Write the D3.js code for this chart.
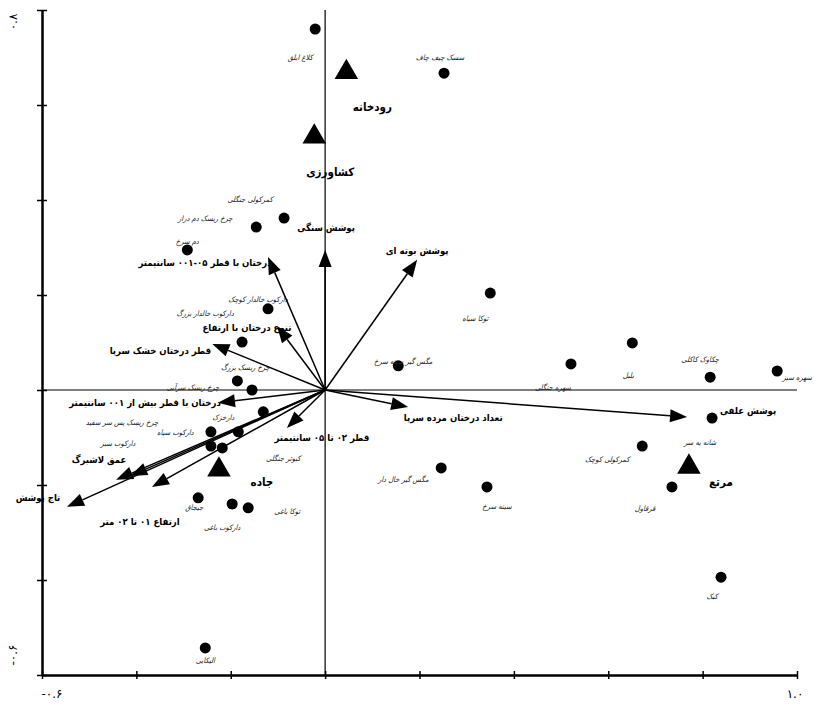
<!DOCTYPE html>
<html>
<head>
<meta charset="utf-8">
<script src="https://cdn.jsdelivr.net/npm/d3@7.9.0/dist/d3.min.js"></script>
<style>
  body { margin: 0; background: #fff; }
  svg { display: block; font-family: "DejaVu Sans Condensed", "DejaVu Sans", sans-serif; }
  .sp { font-size: 7.5px; font-style: italic; fill: #222; }
  .env { font-size: 9.5px; font-weight: bold; fill: #000; }
  .land { font-size: 11.5px; font-weight: bold; fill: #000; }
  .tick-lbl { font-size: 12px; fill: #000; font-family: "DejaVu Sans", sans-serif; }
</style>
</head>
<body>
<svg id="plot" width="814" height="707"></svg>
<script>
// species scores (circles)
const speciesNames = [
  'کلاغ ابلق', 'سسک چیف چاف', 'کمرکولی جنگلی', 'چرخ ریسک دم دراز', 'دم سرخ',
  'دارکوب خالدار کوچک', 'دارکوب خالدار بزرگ', 'چرخ ریسک بزرگ', 'چرخ ریسک سرآبی', 'دارخزک',
  'چرخ ریسک پس سر سفید', 'دارکوب سیاه', 'دارکوب سبز', 'کبوتر جنگلی', 'جیجاق',
  'دارکوب باغی', 'توکا باغی', 'الیکایی', 'توکا سیاه', 'مگس گیر سینه سرخ',
  'سهره جنگلی', 'بلبل', 'چکاوک کاکلی', 'سهره سبز', 'شانه به سر',
  'کمرکولی کوچک', 'قرقاول', 'کبک', 'مگس گیر خال دار', 'سینه سرخ'
];
const speciesX = [
  -0.021, 0.252, -0.087, -0.146, -0.292,
  -0.121, -0.176, -0.186, -0.155, -0.131,
  -0.242, -0.184, -0.242, -0.218, -0.269,
  -0.197, -0.163, -0.254, 0.350, 0.155,
  0.521, 0.651, 0.816, 0.958, 0.820,
  0.672, 0.735, 0.839, 0.246, 0.343
];
const speciesY = [
  0.760, 0.667, 0.362, 0.343, 0.295,
  0.171, 0.101, 0.019, 0.000, -0.046,
  -0.088, -0.088, -0.118, -0.122, -0.227,
  -0.240, -0.248, -0.543, 0.204, 0.051,
  0.055, 0.099, 0.027, 0.040, -0.059,
  -0.118, -0.204, -0.394, -0.164, -0.204
];

// land-use centroids (triangles)
const landNames = ['رودخانه', 'کشاورزی', 'جاده', 'مرتع'];
const landX = [0.045, -0.023, -0.225, 0.771];
const landY = [0.669, 0.533, -0.168, -0.162];

// environmental variables (arrows from origin)
const envNames = [
  'پوشش سنگی', 'پوشش بوته ای', 'درختان با قطر ۰۵-۰۰۱ سانتیمتر', 'تنوع درختان با ارتفاع',
  'قطر درختان خشک سرپا', 'درختان با قطر بیش از ۰۰۱ سانتیمتر', 'قطر ۰۲ تا ۰۵ سانتیمتر',
  'عمق لاشبرگ', '', 'تاج پوشش', 'ارتفاع ۰۱ تا ۰۲ متر', 'تعداد درختان مرده سرپا', 'پوشش علفی'
];
const envX = [0.000, 0.195, -0.121, -0.102, -0.239, -0.227, -0.081, -0.443, -0.413, -0.547, -0.367, 0.176, 0.767];
const envY = [0.295, 0.274, 0.280, 0.135, 0.097, -0.027, -0.080, -0.189, -0.181, -0.246, -0.204, -0.036, -0.057];

const xTicks = [-0.6, -0.4, -0.2, 0, 0.2, 0.4, 0.6, 0.8, 1.0];
const yTicks = [-0.6, -0.4, -0.2, 0, 0.2, 0.4, 0.6, 0.8];

// label placement (pixel offsets from the mark)
const speciesLabelOff = [
  [-15, 28], [-4, -16], [-34, -19], [-51, -9], [0, -8],
  [-10, -9], [-37, -29], [8, -13], [-59, -3], [-40, 6],
  [-89, -9], [-63, 1], [-93, -3], [61, 11], [-4, 10],
  [-10, 23], [39, 4], [0, 13], [-15, 25], [5, -4],
  [-18, 24], [-4, 33], [-10, -18], [20, 6], [-12, 24],
  [-35, 13], [-27, 22], [-9, 19], [-38, 12], [10, 20]
];
const landLabelOff = [[26, 35], [16, 35], [43, 12], [32, 15]];
const envLabelOff = [
  [1, -22], [0, -9], [-63, 5], [-30, 2], [-52, 7], [-73, 0], [35, 9],
  [-17, -20], [0, 0], [-29, -9], [-12, 35], [45, 10], [61, -7]
];

const svg = d3.select('#plot');
const x = d3.scaleLinear().domain([-0.6, 1.0]).range([42, 797]);
const y = d3.scaleLinear().domain([-0.6, 0.8]).range([675, 10]);

// zero lines
svg.append('line')
  .attr('x1', x(-0.6)).attr('x2', x(1.0)).attr('y1', y(0)).attr('y2', y(0))
  .attr('stroke', '#000').attr('stroke-width', 1.2);
svg.append('line')
  .attr('x1', x(0)).attr('x2', x(0)).attr('y1', y(-0.6)).attr('y2', y(0.8))
  .attr('stroke', '#000').attr('stroke-width', 1.2);

// axes: ticks cross the line on both sides
function styleAxis(g) {
  g.selectAll('.domain').attr('stroke', '#000').attr('stroke-width', 2);
  g.selectAll('.tick line').attr('stroke', '#000').attr('stroke-width', 1.5);
  g.selectAll('.tick text').remove();
}
svg.append('g').attr('transform', `translate(0,${y(-0.6)})`)
  .call(d3.axisBottom(x).tickValues(xTicks).tickSize(4).tickSizeOuter(0)).call(styleAxis);
svg.append('g').attr('transform', `translate(0,${y(-0.6)})`)
  .call(d3.axisTop(x).tickValues(xTicks).tickSize(4).tickSizeOuter(0)).call(styleAxis);
svg.append('g').attr('transform', `translate(${x(-0.6)},0)`)
  .call(d3.axisLeft(y).tickValues(yTicks).tickSize(5).tickSizeOuter(0)).call(styleAxis);
svg.append('g').attr('transform', `translate(${x(-0.6)},0)`)
  .call(d3.axisRight(y).tickValues(yTicks).tickSize(5).tickSizeOuter(0)).call(styleAxis);

// axis end labels in Persian digits
svg.append('text').attr('class', 'tick-lbl')
  .attr('transform', `translate(17,${y(0.8) + 12}) rotate(-90)`)
  .attr('text-anchor', 'middle').text('۰.۸');
svg.append('text').attr('class', 'tick-lbl')
  .attr('transform', `translate(17,${y(-0.6) - 20}) rotate(-90)`)
  .attr('text-anchor', 'middle').text('-۰.۶');
svg.append('text').attr('class', 'tick-lbl')
  .attr('x', x(-0.6) + 10).attr('y', 698).attr('text-anchor', 'middle').text('-۰.۶');
svg.append('text').attr('class', 'tick-lbl')
  .attr('x', x(1.0) - 2).attr('y', 698).attr('text-anchor', 'middle').text('۱.۰');

// arrows
envNames.forEach((name, i) => {
  const x0 = x(0), y0 = y(0);
  const x1 = x(envX[i]), y1 = y(envY[i]);
  const ang = Math.atan2(y1 - y0, x1 - x0);
  const len = 17, half = 6.5;
  const bx = x1 - len * Math.cos(ang), by = y1 - len * Math.sin(ang);
  svg.append('line')
    .attr('x1', x0).attr('y1', y0).attr('x2', bx).attr('y2', by)
    .attr('stroke', '#000').attr('stroke-width', 1.5);
  const pts = [
    [x1, y1],
    [bx + half * Math.sin(ang), by - half * Math.cos(ang)],
    [bx - half * Math.sin(ang), by + half * Math.cos(ang)]
  ];
  svg.append('path').attr('d', d3.line()(pts) + 'Z').attr('fill', '#000');
  if (name) {
    svg.append('text').attr('class', 'env')
      .attr('x', x1 + envLabelOff[i][0]).attr('y', y1 + envLabelOff[i][1])
      .attr('dominant-baseline', 'central').attr('text-anchor', 'middle')
      .text(name);
  }
});

// species
speciesNames.forEach((name, i) => {
  const cx = x(speciesX[i]), cy = y(speciesY[i]);
  svg.append('circle').attr('cx', cx).attr('cy', cy).attr('r', 5.5).attr('fill', '#000');
  svg.append('text').attr('class', 'sp')
    .attr('x', cx + speciesLabelOff[i][0]).attr('y', cy + speciesLabelOff[i][1])
    .attr('dominant-baseline', 'central').attr('text-anchor', 'middle')
    .text(name);
});

// land use
const tri = d3.symbol().type(d3.symbolTriangle).size(240);
landNames.forEach((name, i) => {
  const cx = x(landX[i]), cy = y(landY[i]);
  svg.append('path').attr('d', tri()).attr('transform', `translate(${cx},${cy})`).attr('fill', '#000');
  svg.append('text').attr('class', 'land')
    .attr('x', cx + landLabelOff[i][0]).attr('y', cy + landLabelOff[i][1])
    .attr('dominant-baseline', 'central').attr('text-anchor', 'middle')
    .text(name);
});
</script>
</body>
</html>
